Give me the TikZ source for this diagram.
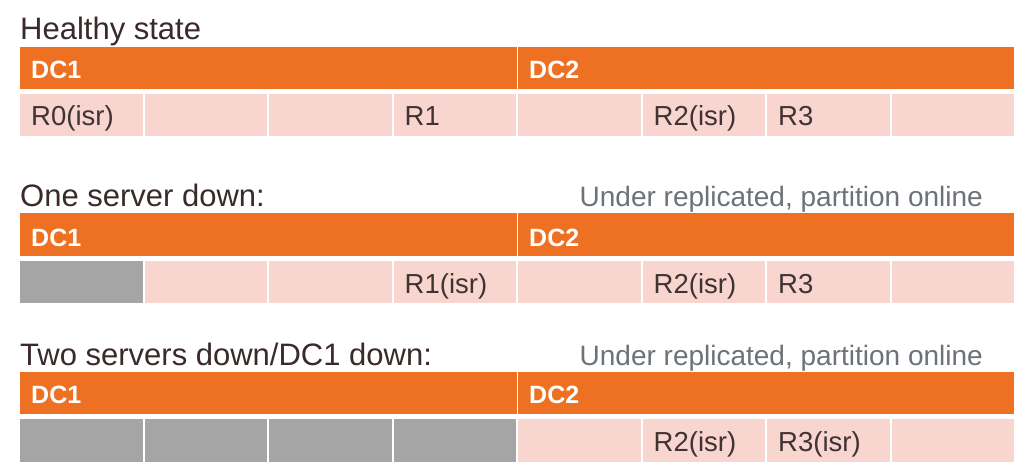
\documentclass[tikz,border=0pt]{standalone}
\usepackage{fontspec}
\setmainfont{Liberation Sans}
\definecolor{dcorange}{HTML}{EE7023}
\definecolor{replpink}{HTML}{F8D5CF}
\definecolor{downgray}{HTML}{A5A5A5}
\definecolor{titleink}{HTML}{3A2A2A}
\definecolor{cellink}{HTML}{3F3333}
\definecolor{noteink}{HTML}{6D7278}
\begin{document}
\begin{tikzpicture}[x=1pt, y=-1pt,
	title/.style={anchor=base west, inner sep=0pt, text=titleink, font=\fontsize{31}{36}\selectfont},
	note/.style={anchor=base east, inner sep=0pt, text=noteink, font=\fontsize{28}{33}\selectfont},
	dclabel/.style={anchor=base west, inner sep=0pt, text=white, font=\fontsize{25}{30}\selectfont\bfseries},
	replica/.style={anchor=base west, inner sep=0pt, text=cellink, font=\fontsize{27.5}{32}\selectfont}]
	\useasboundingbox[fill=white] (0,0) rectangle (1024,473);
	% healthy state
	\node[title] (healthy) at (20,40) {Healthy state};
	\fill[dcorange] (20,47)    rectangle ++(496.5,42);
	\fill[dcorange] (518,47)   rectangle ++(496,42);
	\node[dclabel] (hdcone) at (31,79)  {DC1};
	\node[dclabel] (hdctwo) at (529,79) {DC2};
	\fill[replpink] (20,94)    rectangle ++(122.5,42);
	\fill[replpink] (144.5,94) rectangle ++(122.5,42);
	\fill[replpink] (269,94)   rectangle ++(122.5,42);
	\fill[replpink] (393.5,94) rectangle ++(122.5,42);
	\fill[replpink] (518,94)   rectangle ++(122.5,42);
	\fill[replpink] (642.5,94) rectangle ++(122.5,42);
	\fill[replpink] (767,94)   rectangle ++(122.5,42);
	\fill[replpink] (891.5,94) rectangle ++(122.5,42);
	\node[replica] (hrzero)  at (31,126)    {R0(isr)};
	\node[replica] (hrone)   at (404.5,126) {R1};
	\node[replica] (hrtwo)   at (653.5,126) {R2(isr)};
	\node[replica] (hrthree) at (778,126)   {R3};
	% one server down
	\node[title] (onedown) at (20,206)  {One server down:};
	\node[note]  (onenote) at (983,206) {Under replicated, partition online};
	\fill[dcorange] (20,213)    rectangle ++(496.5,43);
	\fill[dcorange] (518,213)   rectangle ++(496,43);
	\node[dclabel] (odcone) at (31,246)  {DC1};
	\node[dclabel] (odctwo) at (529,246) {DC2};
	\fill[downgray] (20,261)    rectangle ++(122.5,42);
	\fill[replpink] (144.5,261) rectangle ++(122.5,42);
	\fill[replpink] (269,261)   rectangle ++(122.5,42);
	\fill[replpink] (393.5,261) rectangle ++(122.5,42);
	\fill[replpink] (518,261)   rectangle ++(122.5,42);
	\fill[replpink] (642.5,261) rectangle ++(122.5,42);
	\fill[replpink] (767,261)   rectangle ++(122.5,42);
	\fill[replpink] (891.5,261) rectangle ++(122.5,42);
	\node[replica] (orone)   at (404.5,293) {R1(isr)};
	\node[replica] (ortwo)   at (653.5,293) {R2(isr)};
	\node[replica] (orthree) at (778,293)   {R3};
	% two servers down
	\node[title] (twodown) at (20,365)  {Two servers down/DC1 down:};
	\node[note]  (twonote) at (983,365) {Under replicated, partition online};
	\fill[dcorange] (20,372)    rectangle ++(496.5,42);
	\fill[dcorange] (518,372)   rectangle ++(496,42);
	\node[dclabel] (tdcone) at (31,403)  {DC1};
	\node[dclabel] (tdctwo) at (529,403) {DC2};
	\fill[downgray] (20,419)    rectangle ++(122.5,43);
	\fill[downgray] (144.5,419) rectangle ++(122.5,43);
	\fill[downgray] (269,419)   rectangle ++(122.5,43);
	\fill[downgray] (393.5,419) rectangle ++(122.5,43);
	\fill[replpink] (518,419)   rectangle ++(122.5,43);
	\fill[replpink] (642.5,419) rectangle ++(122.5,43);
	\fill[replpink] (767,419)   rectangle ++(122.5,43);
	\fill[replpink] (891.5,419) rectangle ++(122.5,43);
	\node[replica] (trtwo)   at (653.5,451) {R2(isr)};
	\node[replica] (trthree) at (778,451)   {R3(isr)};
\end{tikzpicture}
\end{document}
